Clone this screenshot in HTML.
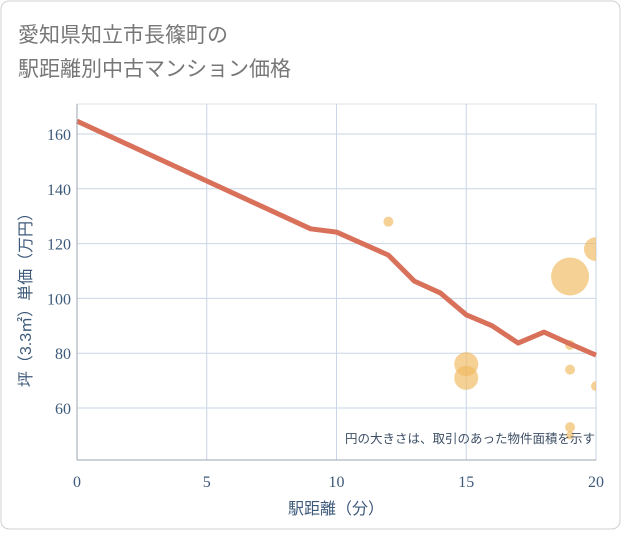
<!DOCTYPE html>
<html><head><meta charset="utf-8"><style>
body{margin:0;background:#fff;font-family:"Liberation Sans","Noto Sans CJK JP",sans-serif}
</style></head><body>
<svg width="621" height="530" xmlns="http://www.w3.org/2000/svg" style="font-family:'Liberation Sans','Noto Sans CJK JP',sans-serif">
<rect x="1" y="1" width="619" height="528" rx="8" fill="#fff" stroke="#d0d0d0"/>
<text x="18" y="42" font-size="21" fill="#777">愛知県知立市長篠町の</text>
<text x="18" y="76" font-size="21" fill="#777">駅距離別中古マンション価格</text>
<rect x="77" y="104" width="519" height="356" fill="#fff" stroke="#dde3ea"/>
<g id="grid"></g>
<g id="bubbles"></g>
<g id="line"></g>
<line x1="77" y1="104" x2="77" y2="460" stroke="#9aa4b0"/>
<line x1="77" y1="460" x2="596" y2="460" stroke="#9aa4b0"/>
<g id="axes"></g>
<text x="595" y="443" font-size="12.5" fill="#3d4f66" text-anchor="end">円の大きさは、取引のあった物件面積を示す</text>
<text x="336" y="514" font-size="16" fill="#3d5a7a" text-anchor="middle">駅距離（分）</text>
<text transform="translate(31,296) rotate(-90)" font-size="16" fill="#3d5a7a" text-anchor="middle">坪（3.3㎡）単価（万円）</text>
</svg>
<script>
const xTicks=[0,5,10,15,20];
const yTicks=[60,80,100,120,140,160];
const lineX=[0,9,10,12,13,14,15,16,17,18,19,20];
const lineY=[164.7,125.4,124.2,115.8,106.3,102,94,90,83.7,87.7,83.4,79.3];
const bubX=[12,15,15,19,20,19,19,20,19,19];
const bubY=[128,76,71,108,118,83,74,68,53,50];
const bubR=[5,12,12,19,12,5,5,5,5,4];
const NS="http://www.w3.org/2000/svg";
const L=77,R=596,T=104,B=460;
const sx=v=>L+v*(R-L)/20;
const sy=v=>134+(160-v)*2.74;
function mk(t,a,p){const e=document.createElementNS(NS,t);for(const k in a)e.setAttribute(k,a[k]);p.appendChild(e);return e;}
const grid=document.getElementById('grid'),axes=document.getElementById('axes');
xTicks.forEach(v=>{
 const g=mk('line',{x1:sx(v),x2:sx(v),y1:T,y2:B,stroke:'#c9d6e6'},grid);
 
 
 const t=mk('text',{x:sx(v),y:487,'font-size':16,fill:'#3d5a7a','text-anchor':'middle','font-family':'Liberation Serif, serif'},axes);t.textContent=v;
 
 
});
yTicks.forEach(v=>{
 const g=mk('line',{x1:L,x2:R,y1:sy(v),y2:sy(v),stroke:'#c9d6e6'},grid);
 
 
 const t=mk('text',{x:71,y:sy(v)+6,'font-size':16,fill:'#3d5a7a','text-anchor':'end','font-family':'Liberation Serif, serif'},axes);t.textContent=v;
 
 
});
const bg=document.getElementById('bubbles');
const clip=mk('clipPath',{id:'pc'},bg);mk('rect',{x:L,y:T,width:R-L,height:B-T},clip);
bubX.forEach((x,i)=>{
 const c=mk('circle',{cx:sx(x),cy:sy(bubY[i]),r:bubR[i],fill:'#f0b95e','fill-opacity':0.65,'clip-path':'url(#pc)'},bg);
 
 
});
const p=mk('polyline',{points:lineX.map((x,i)=>sx(x)+','+sy(lineY[i])).join(' '),fill:'none',stroke:'#d9705a','stroke-width':5,'stroke-linejoin':'round'},document.getElementById('line'));


</script>
</body></html>
